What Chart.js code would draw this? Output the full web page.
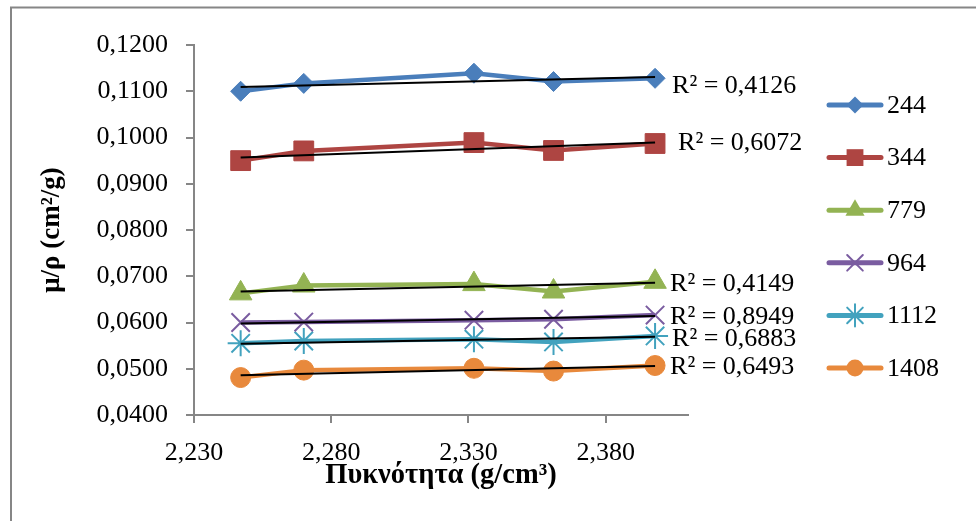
<!DOCTYPE html>
<html>
<head>
<meta charset="utf-8">
<script src="https://cdn.jsdelivr.net/npm/chart.js@4.4.0/dist/chart.umd.min.js"></script>
<style>
  body { margin: 0; background: #fff; }
  #wrap { width: 976px; height: 521px; }
</style>
</head>
<body>
<div id="wrap"><canvas id="chart" width="976" height="521"></canvas></div>
<script>
/* density values (g/cm3) on the x axis */
const density = [2.247, 2.270, 2.332, 2.361, 2.398];
const xTicks = [2.23, 2.28, 2.33, 2.38];

/* energies (keV) used as series names */
const seriesNames = ['244', '344', '779', '964', '1112', '1408'];

/* mass attenuation coefficient mu/rho (cm2/g) per energy */
const mu244 = [0.1100, 0.1117, 0.1139, 0.1121, 0.1128];
const mu344 = [0.0950, 0.0971, 0.0989, 0.0972, 0.0987];
const mu779 = [0.0663, 0.0680, 0.0683, 0.0667, 0.0688];
const mu964 = [0.0600, 0.0601, 0.0605, 0.0607, 0.0616];
const mu1112 = [0.0555, 0.0560, 0.0564, 0.0558, 0.0571];
const mu1408 = [0.0481, 0.0497, 0.0501, 0.0495, 0.0507];

/* linear trend lines: value at first and last density */
const trendStart = [0.1109, 0.0957, 0.0667, 0.0598, 0.0554, 0.0486];
const trendEnd = [0.1131, 0.0989, 0.0686, 0.0614, 0.0569, 0.0506];
const rSquared = ['0,4126', '0,6072', '0,4149', '0,8949', '0,6883', '0,6493'];

const allSeries = [mu244, mu344, mu779, mu964, mu1112, mu1408];
const colors = ['#4A7EBB', '#AE4542', '#93B353', '#7A5CA0', '#42A2BE', '#E8893C'];
const markers = ['rectRot', 'rect', 'triangle', 'crossRot', 'star', 'circle'];
const markerSize = [10, 14, 13, 13, 13, 10];

const serif = "'Liberation Serif', 'Times New Roman', serif";
const gray = '#868686';

const datasets = [];
allSeries.forEach((vals, i) => {
  datasets.push({
    label: seriesNames[i],
    data: vals.map((v, j) => ({ x: density[j], y: v })),
    borderColor: colors[i],
    backgroundColor: colors[i],
    borderWidth: 4.5,
    pointStyle: markers[i],
    pointRadius: markerSize[i],
    pointBackgroundColor: colors[i],
    pointBorderColor: colors[i],
    pointBorderWidth: (markers[i] === 'crossRot' || markers[i] === 'star') ? 2 : 1,
    tension: 0,
    order: 1
  });
});
trendStart.forEach((v, i) => {
  datasets.push({
    label: 'trend ' + seriesNames[i],
    data: [{ x: density[0], y: v }, { x: density[density.length - 1], y: trendEnd[i] }],
    borderColor: '#000',
    borderWidth: 2,
    pointRadius: 0,
    order: 0,
    isTrend: true,
    rIndex: i
  });
});

/* small marker painter for the legend */
function paintMarker(ctx, style, x, y, r, color) {
  ctx.save();
  ctx.fillStyle = color;
  ctx.strokeStyle = color;
  ctx.lineWidth = 2;
  ctx.beginPath();
  if (style === 'rectRot') {
    ctx.moveTo(x - r, y); ctx.lineTo(x, y - r); ctx.lineTo(x + r, y); ctx.lineTo(x, y + r);
    ctx.closePath(); ctx.fill();
  } else if (style === 'rect') {
    const s = r * Math.SQRT1_2;
    ctx.rect(x - s, y - s, 2 * s, 2 * s); ctx.fill();
  } else if (style === 'triangle') {
    ctx.moveTo(x, y - r);
    ctx.lineTo(x + r * 0.866, y + r / 2);
    ctx.lineTo(x - r * 0.866, y + r / 2);
    ctx.closePath(); ctx.fill();
  } else if (style === 'crossRot' || style === 'star') {
    const d = r * Math.SQRT1_2;
    ctx.moveTo(x - d, y - d); ctx.lineTo(x + d, y + d);
    ctx.moveTo(x - d, y + d); ctx.lineTo(x + d, y - d);
    if (style === 'star') { ctx.moveTo(x, y - r); ctx.lineTo(x, y + r); }
    ctx.stroke();
  } else {
    ctx.arc(x, y, r, 0, Math.PI * 2); ctx.fill();
  }
  ctx.restore();
}

const decorPlugin = {
  id: 'decor',
  beforeDraw(chart) {
    const ctx = chart.ctx;
    ctx.save();
    ctx.strokeStyle = gray;
    ctx.lineWidth = 2;
    ctx.beginPath();
    ctx.moveTo(11, 521);
    ctx.lineTo(11, 7.5);
    ctx.lineTo(976, 7.5);
    ctx.stroke();
    ctx.restore();
  },
  afterDraw(chart) {
    const ctx = chart.ctx;
    ctx.save();
    /* R squared labels next to the trend line ends */
    const dx = [17, 23, 15, 15, 17, 15];
    const dy = [9, 1, 1, 1, 2, 1];
    ctx.font = '26px ' + serif;
    ctx.fillStyle = '#000';
    ctx.textAlign = 'left';
    ctx.textBaseline = 'middle';
    chart.data.datasets.forEach((ds, di) => {
      if (!ds.isTrend) return;
      const end = chart.getDatasetMeta(di).data[1];
      ctx.fillText('R\u00B2 = ' + rSquared[ds.rIndex], end.x + dx[ds.rIndex], end.y + dy[ds.rIndex]);
    });
    /* legend */
    seriesNames.forEach((name, i) => {
      const y = 105 + i * 52.6;
      ctx.strokeStyle = colors[i];
      ctx.lineWidth = 5;
      ctx.lineCap = 'round';
      ctx.beginPath();
      ctx.moveTo(829, y);
      ctx.lineTo(881, y);
      ctx.stroke();
      paintMarker(ctx, markers[i], 855, y, markerSize[i] * 0.85, colors[i]);
      ctx.fillStyle = '#000';
      ctx.fillText(name, 887, y + 1);
    });
    ctx.restore();
  }
};

new Chart(document.getElementById('chart'), {
  type: 'line',
  data: { datasets: datasets },
  plugins: [decorPlugin],
  options: {
    responsive: false,
    animation: false,
    devicePixelRatio: 1,
    layout: { padding: { left: 0, top: 45, right: 288, bottom: 0 } },
    plugins: { legend: { display: false }, tooltip: { enabled: false } },
    scales: {
      x: {
        type: 'linear',
        min: 2.23,
        max: 2.41,
        afterBuildTicks: scale => { scale.ticks = xTicks.map(v => ({ value: v })); },
        afterFit: scale => { scale.height = 106; },
        border: { display: true, color: gray, width: 2 },
        grid: { display: true, drawOnChartArea: false, drawTicks: true, tickLength: 8, color: gray, lineWidth: 2 },
        ticks: {
          padding: 15,
          color: '#000',
          font: { family: serif, size: 26 },
          maxRotation: 0,
          autoSkip: false,
          callback: v => Number(v).toFixed(3).replace('.', ',')
        },
        title: {
          display: true,
          text: 'Πυκνότητα (g/cm³)',
          color: '#000',
          font: { family: serif, size: 28.5, weight: 'bold' },
          padding: { top: 0, bottom: 28 }
        }
      },
      y: {
        min: 0.04,
        max: 0.12,
        afterFit: scale => { scale.width = 194; },
        border: { display: true, color: gray, width: 2 },
        grid: { display: true, drawOnChartArea: false, drawTicks: true, tickLength: 8, color: gray, lineWidth: 2 },
        ticks: {
          stepSize: 0.01,
          padding: 18,
          color: '#000',
          font: { family: serif, size: 26 },
          callback: v => Number(v).toFixed(4).replace('.', ',')
        },
        title: {
          display: true,
          text: 'μ/ρ (cm²/g)',
          color: '#000',
          font: { family: serif, size: 27, weight: 'bold' },
          padding: { top: 36, bottom: 0 }
        }
      }
    }
  }
});
</script>
</body>
</html>
